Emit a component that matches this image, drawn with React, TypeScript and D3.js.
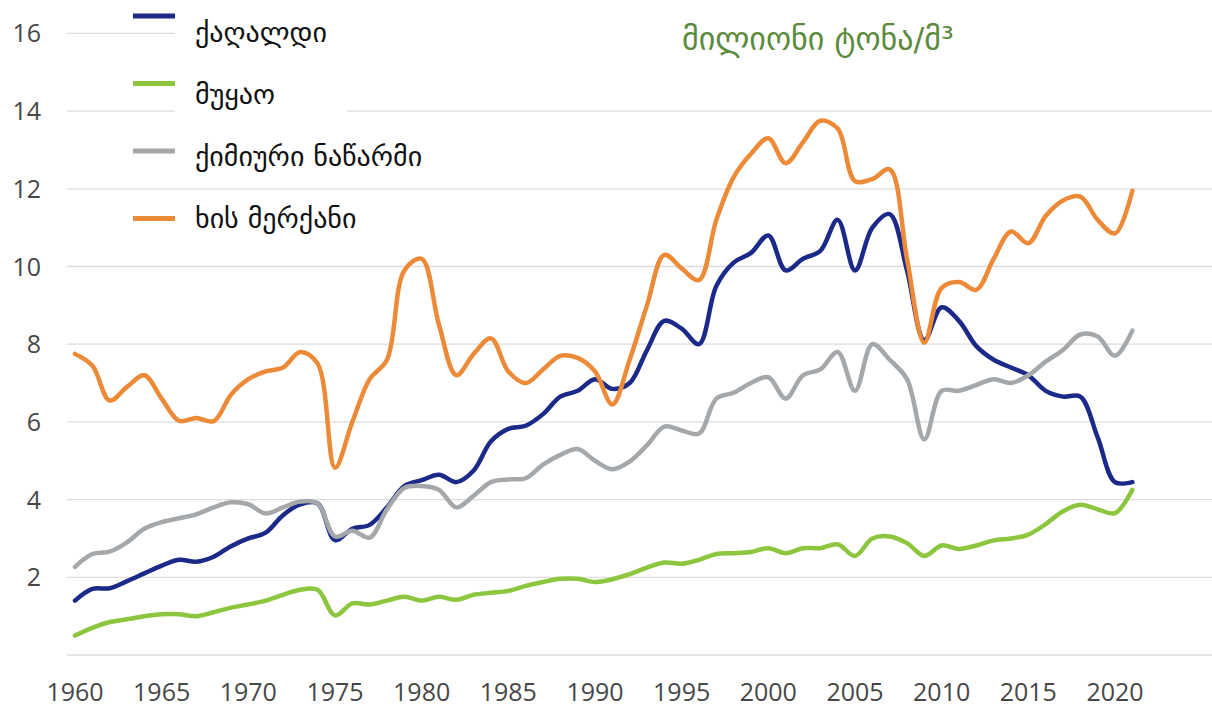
import React from 'react';
import * as d3 from 'd3';

// values, 1960..2021
const paper = [
  1.4, 1.7, 1.72, 1.9, 2.1, 2.3, 2.45, 2.4, 2.53, 2.8,
  3.0, 3.15, 3.6, 3.88, 3.9, 2.96, 3.25, 3.35, 3.8, 4.35,
  4.5, 4.64, 4.45, 4.75, 5.5, 5.82, 5.9, 6.2, 6.65, 6.8,
  7.1, 6.85, 7.0, 7.85, 8.6, 8.4, 8.0, 9.5, 10.1, 10.35,
  10.8, 9.9, 10.2, 10.4, 11.2, 9.9, 11.0, 11.35, 9.9, 8.1,
  8.95, 8.6, 7.95, 7.6, 7.4, 7.2, 6.8, 6.65, 6.65, 5.6,
  4.45, 4.45,
];
const clay = [
  0.5, 0.7, 0.85, 0.92, 1.0, 1.05, 1.05, 1.0, 1.1, 1.22,
  1.3, 1.4, 1.55, 1.68, 1.68, 1.02, 1.33, 1.3, 1.4, 1.5,
  1.4, 1.5, 1.42, 1.55, 1.6, 1.65, 1.78, 1.88, 1.96, 1.96,
  1.88, 1.95, 2.08, 2.25, 2.38, 2.35, 2.45, 2.6, 2.62, 2.65,
  2.75, 2.62, 2.75, 2.75, 2.85, 2.55, 3.0, 3.05, 2.88, 2.55,
  2.82, 2.73, 2.82, 2.95, 3.0, 3.1, 3.37, 3.7, 3.87, 3.75,
  3.65, 4.25,
];
const chemicals = [
  2.27, 2.6, 2.66, 2.9, 3.25, 3.42, 3.52, 3.62, 3.8, 3.93,
  3.88, 3.64, 3.8, 3.95, 3.9, 3.05, 3.2, 3.02, 3.75, 4.3,
  4.35, 4.25, 3.8, 4.1, 4.45, 4.52, 4.55, 4.9, 5.15, 5.3,
  5.0, 4.78, 4.98, 5.4, 5.88, 5.78, 5.7, 6.6, 6.75, 7.0,
  7.15, 6.6, 7.2, 7.35, 7.8, 6.8, 8.0, 7.6, 7.1, 5.55,
  6.8, 6.8, 6.95, 7.1, 7.0, 7.2, 7.55, 7.85, 8.25, 8.2,
  7.7, 8.35,
];
const wood = [
  7.75, 7.45, 6.55, 6.9, 7.2, 6.6, 6.03, 6.1, 6.02, 6.7,
  7.1, 7.3, 7.4, 7.8, 7.5, 4.82, 6.0, 7.1, 7.6, 9.9,
  10.2, 8.5, 7.2, 7.75, 8.15, 7.3, 7.0, 7.35, 7.7, 7.65,
  7.3, 6.45, 7.6, 9.0, 10.3, 9.95, 9.65, 11.2, 12.3, 12.9,
  13.3, 12.66, 13.2, 13.75, 13.55, 12.2, 12.25, 12.5, 10.2, 8.04,
  9.45, 9.6, 9.4, 10.2, 10.9, 10.6, 11.3, 11.7, 11.8, 11.2,
  10.85, 11.95,
];

const startYear = 1960;
const years = paper.map((_, i) => startYear + i);
const xTicks = [1960, 1965, 1970, 1975, 1980, 1985, 1990, 1995, 2000, 2005, 2010, 2015, 2020];
const yTicks = [2, 4, 6, 8, 10, 12, 14, 16];
const seriesNames = ['ქაღალდი', 'მუყაო', 'ქიმიური ნაწარმი', 'ხის მერქანი'];
const seriesValues = [paper, clay, chemicals, wood];
const colors = ['#1b2a88', '#8cc63e', '#a5a8ab', '#ec8a37'];
const unitLabel = 'მილიონი ტონა/მ³';

const W = 1212;
const H = 707;

export default function App() {
  const x = d3.scaleLinear().domain([1960, 2020]).range([75, 1115]);
  const y = d3.scaleLinear().domain([0, 16]).range([655, 33.4]);

  const line = d3.line<number>()
    .x((_, i) => x(years[i]))
    .y((d) => y(d))
    .curve(d3.curveCatmullRom.alpha(0.5));

  const gridLeft = 67;
  const gridRight = W;

  return (
    <svg width={W} height={H} style={{ position: 'absolute', left: 0, top: 0, background: '#fff' }}>
      {/* gridlines */}
      {[0, ...yTicks].map((t) => (
        <line key={'g' + t} x1={gridLeft} x2={gridRight} y1={y(t)} y2={y(t)}
          stroke="#dcdcdc" strokeWidth={1.3} />
      ))}
      {/* white background behind legend texts hides part of grid */}
      <rect x={175} y={0} width={W - 175} height={62} fill="#fff" />
      <rect x={175} y={62} width={172} height={80} fill="#fff" />

      {/* y axis labels */}
      {yTicks.map((t) => (
        <text key={'y' + t} x={41} y={y(t)} dy="0.36em" textAnchor="end"
          fontFamily="'Open Sans', sans-serif" fontSize={25} fill="#474747">{t}</text>
      ))}
      {/* x axis labels */}
      {xTicks.map((t) => (
        <text key={'x' + t} x={x(t)} y={701} textAnchor="middle"
          fontFamily="'Open Sans', sans-serif" fontSize={25} fill="#474747">{t}</text>
      ))}

      {/* series */}
      {seriesValues.map((vals, i) => (
        <path key={'s' + i} d={line(vals) || ''} fill="none" stroke={colors[i]}
          strokeWidth={4.5} strokeLinejoin="round" strokeLinecap="round" />
      ))}

      {/* legend */}
      {seriesNames.map((name, i) => (
        <g key={'l' + i}>
          <line x1={133} x2={175} y1={16 + i * 67.5} y2={16 + i * 67.5}
            stroke={colors[i]} strokeWidth={5} />
          <text x={195} y={42 + i * 62} fontFamily="'DejaVu Sans', sans-serif"
            fontSize={28} fill="#111">{name}</text>
        </g>
      ))}

      {/* unit */}
      <text x={682} y={50} fontFamily="'DejaVu Sans', sans-serif" fontSize={32}
        fill="#5b8a3c">{unitLabel}</text>
    </svg>
  );
}
